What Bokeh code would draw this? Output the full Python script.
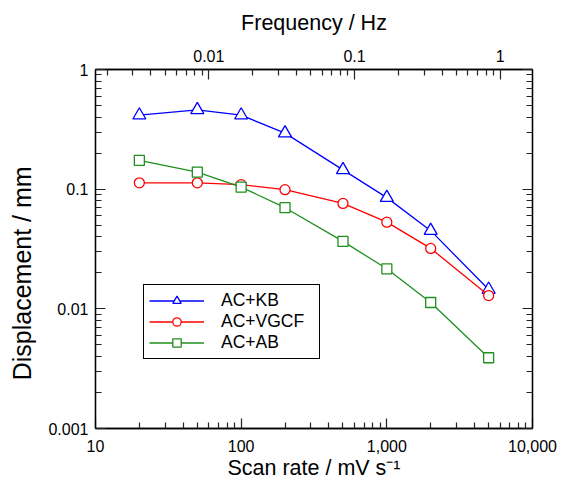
from bokeh.plotting import figure
from bokeh.models import (LogAxis, Range1d, LogScale, FixedTicker, CustomJSTickFormatter,
                          Legend, LegendItem)
from bokeh.embed import file_html
from bokeh.resources import INLINE

# ---- data ----
scan_rate = [20, 50, 100, 200, 500, 1000, 2000, 5000]          # mV s-1
ac_kb = [0.415, 0.46, 0.415, 0.294, 0.145, 0.085, 0.045, 0.0145]
ac_vgcf = [0.113, 0.113, 0.109, 0.099, 0.076, 0.053, 0.032, 0.0129]
ac_ab = [0.174, 0.139, 0.104, 0.070, 0.0366, 0.0216, 0.0113, 0.0039]

x_major = [10, 100, 1000, 10000]
y_major = [0.001, 0.01, 0.1, 1]
f_major = [0.01, 0.1, 1]
x_lim = (10, 10000)
y_lim = (0.001, 1)
scan_per_hz = 6000  # frequency = scan rate / 6000 (mV s-1 -> Hz)

FONT = "Liberation Sans"
TICK_COLOR = "#222222"


def minors(decades, lo, hi):
    return [m * d for d in decades for m in range(2, 10) if lo < m * d < hi]


p = figure(width=560, height=484, x_axis_type="log", y_axis_type="log",
           x_range=x_lim, y_range=y_lim, output_backend="svg", toolbar_location=None,
           min_border_left=95, min_border_right=28, min_border_top=69, min_border_bottom=56)

p.xgrid.grid_line_color = None
p.ygrid.grid_line_color = None
p.outline_line_color = "black"
p.outline_line_width = 1.3
p.outline_line_alpha = 1

fmt = CustomJSTickFormatter(code="return tick >= 1000 ? tick.toLocaleString('en-US') : String(tick);")
blank = CustomJSTickFormatter(code="return '';")


def style_axis(ax, label_standoff, axis_label_standoff, label_size="21.5px"):
    ax.major_tick_in = 10
    ax.major_tick_out = 0
    ax.minor_tick_in = 6
    ax.minor_tick_out = 0
    ax.major_tick_line_color = TICK_COLOR
    ax.minor_tick_line_color = TICK_COLOR
    ax.major_tick_line_width = 1.2
    ax.minor_tick_line_width = 1.2
    ax.axis_line_color = "black"
    ax.axis_line_width = 1.3
    ax.major_label_text_font = FONT
    ax.major_label_text_font_size = "16px"
    ax.major_label_text_color = "black"
    ax.major_label_standoff = label_standoff
    ax.axis_label_text_font = FONT
    ax.axis_label_text_font_size = label_size
    ax.axis_label_text_font_style = "normal"
    ax.axis_label_text_color = "black"
    ax.axis_label_standoff = axis_label_standoff


# bottom axis
xa = p.xaxis[0]
xa.ticker = FixedTicker(ticks=x_major, minor_ticks=minors([10, 100, 1000], *x_lim))
xa.formatter = fmt
xa.axis_label = "Scan rate / mV s\u207b\u00b9"
style_axis(xa, 11, 1)

# left axis; trailing no-break spaces move the label toward the bottom like the reference
ya = p.yaxis[0]
ya.ticker = FixedTicker(ticks=y_major, minor_ticks=minors([0.001, 0.01, 0.1], *y_lim))
ya.formatter = fmt
ya.axis_label = "Displacement / mm" + "\u00a0" * 7
style_axis(ya, 7, 9, "25px")

# top axis: frequency
f_lo, f_hi = x_lim[0] / scan_per_hz, x_lim[1] / scan_per_hz
p.extra_x_ranges = {"freq": Range1d(f_lo, f_hi)}
p.extra_x_scales = {"freq": LogScale()}
ta = LogAxis(x_range_name="freq", axis_label="Frequency / Hz")
ta.ticker = FixedTicker(ticks=f_major, minor_ticks=minors([0.001, 0.01, 0.1], f_lo, f_hi))
ta.formatter = fmt
style_axis(ta, 8, 12)
p.add_layout(ta, "above")

# right axis: mirrored ticks, no labels
ra = LogAxis()
ra.ticker = FixedTicker(ticks=y_major, minor_ticks=minors([0.001, 0.01, 0.1], *y_lim))
ra.formatter = blank
style_axis(ra, 0, 0)
p.add_layout(ra, "right")

series = [
    ("AC+KB", ac_kb, "#0000ff", "triangle", 13),
    ("AC+VGCF", ac_vgcf, "#ff0000", "circle", 10),
    ("AC+AB", ac_ab, "#1f8f1f", "square", 10),
]
items = []
for name, ys, color, marker, size in series:
    ln = p.line(scan_rate, ys, line_color=color, line_width=1.3)
    sc = p.scatter(scan_rate, ys, marker=marker, size=size, line_color=color,
                   line_width=1.3, fill_color="white")
    items.append(LegendItem(label=name, renderers=[ln, sc]))

legend = Legend(items=items, location=(48, 69))
legend.border_line_color = "black"
legend.border_line_width = 1.3
legend.border_line_alpha = 1
legend.background_fill_color = "white"
legend.background_fill_alpha = 1
legend.label_text_font = FONT
legend.label_text_font_size = "17.5px"
legend.label_text_color = "black"
legend.glyph_width = 55
legend.glyph_height = 21
legend.label_height = 21
legend.label_standoff = 17
legend.label_width = 93
legend.spacing = 0
legend.padding = 5
legend.margin = 0
p.add_layout(legend)

open("out.html", "w").write(file_html(p, INLINE))
